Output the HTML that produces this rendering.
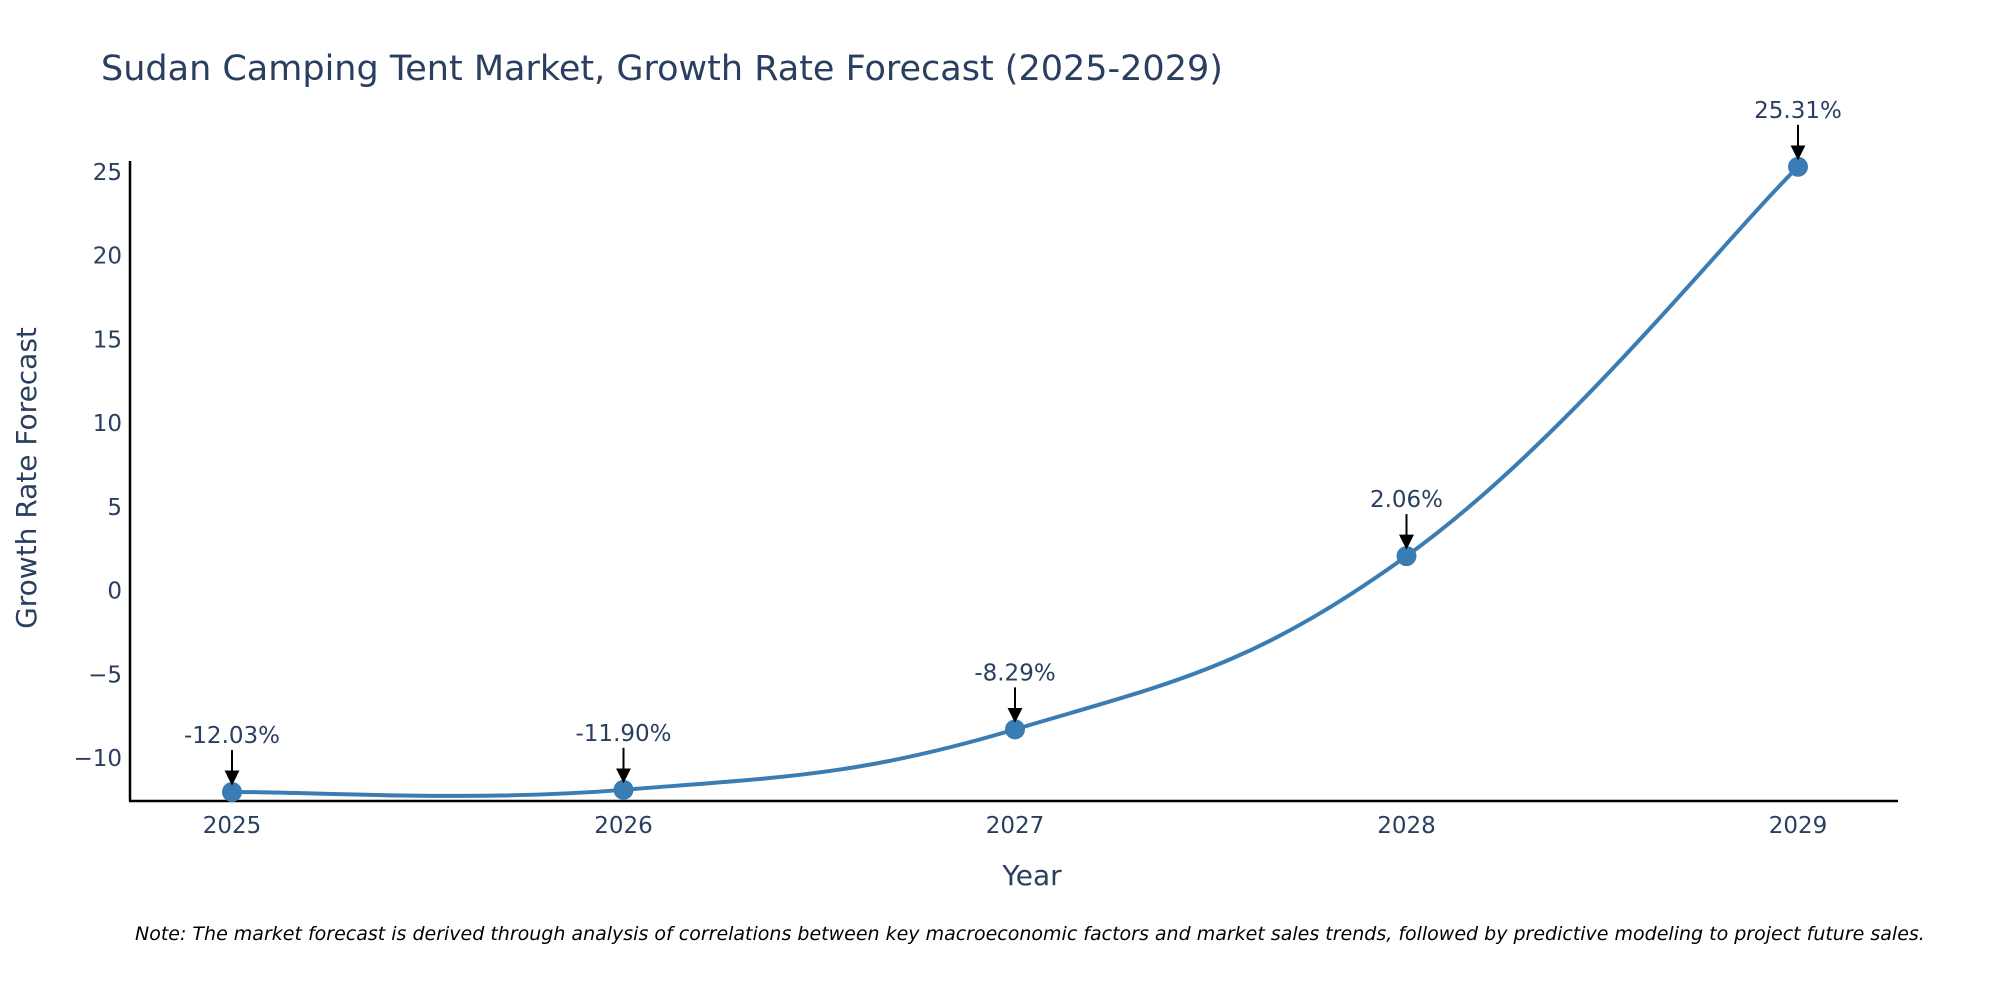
<!DOCTYPE html>
<html><head><meta charset="utf-8"><style>
body{margin:0;background:#fff;width:2000px;height:1000px;overflow:hidden;font-family:"DejaVu Sans","Liberation Sans",sans-serif;}
svg text{font-family:"DejaVu Sans","Liberation Sans",sans-serif;fill:#2a3f5f;}
</style></head><body>
<svg id="chart" width="2000" height="1000">
<defs><marker id="ah" viewBox="0 0 10 10" refX="9" refY="5" markerWidth="15" markerHeight="15" markerUnits="userSpaceOnUse" orient="auto"><path d="M0,0 L10,5 L0,10 z" fill="#000"/></marker></defs>
<text x="101" y="80" font-size="35">Sudan Camping Tent Market, Growth Rate Forecast (2025-2029)</text>
<g id="yticks"></g><g id="xticks"></g>
<line x1="130" y1="161" x2="130" y2="801" stroke="#000" stroke-width="2.5"/>
<line x1="129" y1="801" x2="1898" y2="801" stroke="#000" stroke-width="2.5"/>
<path id="line" fill="none" stroke="#3a7db4" stroke-width="4"/>
<g id="pts"></g><g id="ann"></g>
<text x="1032" y="885" font-size="28" text-anchor="middle">Year</text>
<text transform="translate(36,478) rotate(-90)" font-size="28" text-anchor="middle">Growth Rate Forecast</text>
<text x="135" y="940" font-size="19" font-style="italic" style="fill:#000">Note: The market forecast is derived through analysis of correlations between key macroeconomic factors and market sales trends, followed by predictive modeling to project future sales.</text>
</svg>
<script>
const years=[2025,2026,2027,2028,2029];
const values=[-12.03,-11.90,-8.29,2.06,25.31];
const labels=["-12.03%","-11.90%","-8.29%","2.06%","25.31%"];
const yTicks=[-10,-5,0,5,10,15,20,25];
const yTickLabels=["\u221210","\u22125","0","5","10","15","20","25"];
const NS="http://www.w3.org/2000/svg";
const X=v=>232+(v-2025)*(1798-232)/4;
const Y=v=>758-(v+10)*(758-172)/35;
function mk(t,a,p){const e=document.createElementNS(NS,t);for(const k in a)e.setAttribute(k,a[k]);p.appendChild(e);return e;}
const yt=document.getElementById('yticks');
yTicks.forEach((v,i)=>{const t=mk('text',{x:122,y:Y(v)+8,'font-size':23,'text-anchor':'end'},yt);t.textContent=yTickLabels[i];

});
const xt=document.getElementById('xticks');
years.forEach(v=>{const t=mk('text',{x:X(v),y:833,'font-size':23,'text-anchor':'middle'},xt);t.textContent=v;

});
const P=years.map((y,i)=>[X(y),Y(values[i])]);
let d="M"+P[0][0]+","+P[0][1];
for(let i=0;i<P.length-1;i++){const p0=P[i-1]||P[i],p1=P[i],p2=P[i+1],p3=P[i+2]||P[i+1];const s=0.2;
d+=` C${p1[0]+(p2[0]-p0[0])*s},${p1[1]+(p2[1]-p0[1])*s} ${p2[0]-(p3[0]-p1[0])*s},${p2[1]-(p3[1]-p1[1])*s} ${p2[0]},${p2[1]}`;}
document.getElementById('line').setAttribute('d',d);
const pg=document.getElementById('pts'),ag=document.getElementById('ann');
P.forEach((p,i)=>{const c=mk('circle',{cx:p[0],cy:p[1],r:10,fill:'#3a7db4'},pg);


const l=mk('line',{x1:p[0],y1:p[1]-42,x2:p[0],y2:p[1]-8,stroke:'#000','stroke-width':2,'marker-end':'url(#ah)'},ag);


const t=mk('text',{x:p[0],y:p[1]-49,'font-size':23,'text-anchor':'middle'},ag);t.textContent=labels[i];

});
</script>
</body></html>
